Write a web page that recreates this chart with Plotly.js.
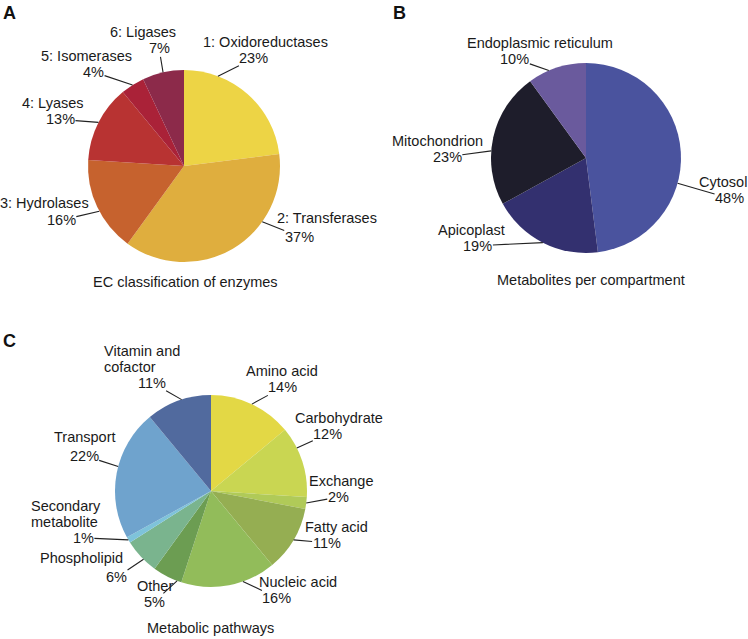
<!DOCTYPE html>
<html><head><meta charset="utf-8">
<script src="https://cdn.plot.ly/plotly-3.0.1.min.js"></script>
<style>html,body{margin:0;padding:0;background:#fff}#chart{width:748px;height:639px}</style>
</head><body><div id="chart"></div>
<script>
// ---- data ----
const enzymeLabels = ['1: Oxidoreductases','2: Transferases','3: Hydrolases','4: Lyases','5: Isomerases','6: Ligases'];
const enzymeValues = [23, 37, 16, 13, 4, 7];
const compartmentLabels = ['Cytosol','Apicoplast','Mitochondrion','Endoplasmic reticulum'];
const compartmentValues = [48, 19, 23, 10];
const pathwayLabels = ['Amino acid','Carbohydrate','Exchange','Fatty acid','Nucleic acid','Other','Phospholipid','Secondary|metabolite','Transport','Vitamin and|cofactor'];
const pathwayValues = [14, 12, 2, 11, 16, 5, 6, 1, 22, 11];
const panelTitles = ['EC classification of enzymes','Metabolites per compartment','Metabolic pathways'];
const panelLetters = ['A','B','C'];

// ---- style / layout ----
const W = 748, H = 639;
const FONT = 'Liberation Sans, Arial, Helvetica, sans-serif';
const TXT = '#1a1a1a';
const FS = 14.5;
// label spec: [tip fraction within slice, pct dx, pct dy, name dx (rel pct center), line gap, anchor]
const panels = [
  {labels: enzymeLabels, values: enzymeValues, cx: 184, cy: 166, r: 96,
   colors: ['#EDD445','#DFAE3E','#C6622E','#B83332','#AA2238','#8C2A4A'],
   spec: [[0.25,36,-18,12,16,'c'],[0.32,37,15,28,19,'c'],[0.45,-38,9,-17,17,'c'],[0.5,-38,-3,-7,16,'c'],[0.5,-39,-13,-7,16,'c'],[0.5,-4,-24,-16,16,'c']],
   title: [185, 282], letter: [1, 13]},
  {labels: compartmentLabels, values: compartmentValues, cx: 586, cy: 158, r: 95,
   colors: ['#4A539E','#33306F','#1E1D2B','#6A5A9D'],
   spec: [[0.61,52,15,-7,16,'c'],[0.5,-65,3,-6,16,'c'],[0.4,-44,6,-10,16,'c'],[0.36,-34,-12,25,16,'c']],
   title: [591, 280], letter: [391, 13]},
  {labels: pathwayLabels, values: pathwayValues, cx: 211, cy: 491, r: 96,
   colors: ['#E3D845','#C9D652','#B0CA58','#95AE52','#92BC5A','#6C9D52','#7AB48E','#7EC3DA','#6FA3CD','#516A9E'],
   spec: [[0.5,31,-17,-1,16,'c'],[0.3,31,-14,11,16,'c'],[0.5,32,-6,3,16,'c'],[0.5,33,3,10,16,'c'],[0.35,34,16,21,16,'c'],
          [0.15,-23,21,1,16,'c'],[0.4,-27,18,-35,19,'c'],[0.5,-45,-2,-54,16,'l'],[0.55,-34,-11,1,19,'c'],[0.55,-30,-17,-50,16,'l']],
   title: [210, 628], letter: [1, 341]}
];

const traces = [];
const annotations = [];
const px = x => x / W;
const py = y => 1 - y / H;

panels.forEach((p, i) => {
  traces.push({
    type: 'pie', labels: p.labels, values: p.values, sort: false, direction: 'clockwise', rotation: 0,
    textinfo: 'none', hoverinfo: 'label+percent',
    marker: {colors: p.colors, line: {width: 0}},
    domain: {x: [px(p.cx - p.r), px(p.cx + p.r)], y: [py(p.cy + p.r), py(p.cy - p.r)]},
    showlegend: false
  });
  const total = p.values.reduce((a, b) => a + b, 0);
  let cum = 0;
  p.values.forEach((v, k) => {
    const [frac, dx, dy, nx, gap, anc] = p.spec[k];
    const th = (cum + frac * v) / total * 2 * Math.PI;
    cum += v;
    const tx = p.cx + p.r * Math.sin(th), ty = p.cy - p.r * Math.cos(th);
    const pct = Math.round(v / total * 100) + '%';
    annotations.push({
      xref: 'paper', yref: 'paper', x: px(tx), y: py(ty), ax: dx, ay: dy,
      text: pct, showarrow: true, arrowhead: 0, arrowwidth: 1.1, arrowcolor: '#222',
      standoff: 0, startstandoff: 0, borderpad: 0,
      font: {family: FONT, size: FS, color: TXT}
    });
    const lines = p.labels[k].split('|');
    const ccx = tx + dx, ccy = ty + dy;
    lines.forEach((ln, j) => {
      const yy = ccy - gap * (lines.length - j);
      annotations.push({
        xref: 'paper', yref: 'paper', x: px(ccx + nx), y: py(yy), showarrow: false,
        xanchor: anc === 'l' ? 'left' : 'center', yanchor: 'middle', text: ln,
        font: {family: FONT, size: FS, color: TXT}
      });
    });
  });
  annotations.push({
    xref: 'paper', yref: 'paper', x: px(p.title[0]), y: py(p.title[1]), showarrow: false,
    xanchor: 'center', yanchor: 'middle', text: panelTitles[i],
    font: {family: FONT, size: FS, color: TXT}
  });
  annotations.push({
    xref: 'paper', yref: 'paper', x: px(p.letter[0]), y: py(p.letter[1]), showarrow: false,
    xanchor: 'left', yanchor: 'middle', text: '<b>' + panelLetters[i] + '</b>',
    font: {family: FONT, size: 18, color: '#111'}
  });
});

Plotly.newPlot('chart', traces, {
  width: W, height: H, margin: {l: 0, r: 0, t: 0, b: 0},
  paper_bgcolor: '#fff', plot_bgcolor: '#fff',
  font: {family: FONT, color: TXT},
  annotations: annotations, showlegend: false
}, {staticPlot: true});
</script>
</body></html>
